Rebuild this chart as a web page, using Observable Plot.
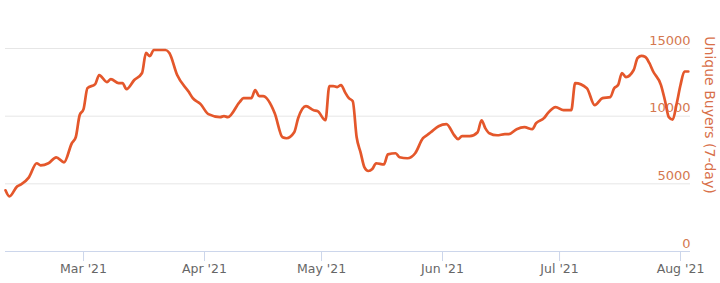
<!DOCTYPE html>
<html>
<head>
<meta charset="utf-8">
<script src="https://cdn.jsdelivr.net/npm/d3@7"></script>
<script src="https://cdn.jsdelivr.net/npm/@observablehq/plot@0.6"></script>
<style>
  html, body { margin: 0; padding: 0; background: #ffffff; }
  #chart { width: 720px; height: 283px; }
</style>
</head>
<body>
<div id="chart"></div>
<script>
const dates = [
  "2021-02-09","2021-02-10","2021-02-12","2021-02-13","2021-02-15","2021-02-17","2021-02-18","2021-02-20",
  "2021-02-22","2021-02-24","2021-02-26","2021-02-27","2021-02-28","2021-03-01","2021-03-02","2021-03-04",
  "2021-03-05","2021-03-07","2021-03-08","2021-03-10","2021-03-11","2021-03-12","2021-03-14","2021-03-16",
  "2021-03-17","2021-03-18","2021-03-19","2021-03-22","2021-03-23","2021-03-25","2021-03-28","2021-03-29",
  "2021-03-31","2021-04-02","2021-04-05","2021-04-06","2021-04-07","2021-04-10","2021-04-11","2021-04-13",
  "2021-04-14","2021-04-15","2021-04-16","2021-04-19","2021-04-21","2021-04-22","2021-04-24","2021-04-25",
  "2021-04-27","2021-04-29","2021-04-30","2021-05-02","2021-05-03","2021-05-04","2021-05-05","2021-05-06",
  "2021-05-07","2021-05-08","2021-05-09","2021-05-10","2021-05-11","2021-05-12","2021-05-13","2021-05-14",
  "2021-05-15","2021-05-17","2021-05-18","2021-05-20","2021-05-21","2021-05-23","2021-05-25","2021-05-27",
  "2021-05-28","2021-05-29","2021-05-31","2021-06-02","2021-06-04","2021-06-05","2021-06-06","2021-06-08",
  "2021-06-10","2021-06-11","2021-06-12","2021-06-13","2021-06-15","2021-06-17","2021-06-18","2021-06-20",
  "2021-06-22","2021-06-24","2021-06-25","2021-06-27","2021-06-28","2021-06-30","2021-07-02","2021-07-04",
  "2021-07-05","2021-07-08","2021-07-10","2021-07-12","2021-07-14","2021-07-15","2021-07-16","2021-07-17",
  "2021-07-18","2021-07-20","2021-07-21","2021-07-22","2021-07-23","2021-07-24","2021-07-25","2021-07-27",
  "2021-07-28","2021-07-29","2021-07-30","2021-07-31","2021-08-01","2021-08-02","2021-08-03"
];
const buyers = [
  4520, 4070, 4815, 4960, 5480, 6520, 6370, 6520,
  6960, 6590, 8000, 8440, 10070, 10520, 12070, 12370,
  13040, 12520, 12740, 12440, 12440, 12000, 12670, 13190,
  14670, 14440, 14890, 14890, 14670, 13040, 11780, 11330,
  10890, 10150, 9930, 10000, 9930, 11040, 11330, 11330,
  11930, 11480, 11480, 10220, 8440, 8370, 8810, 9850,
  10740, 10440, 10370, 9700, 12220, 12220, 12150, 12300,
  11780, 11330, 11110, 8440, 7330, 6220, 5950, 6100,
  6520, 6440, 7180, 7260, 6960, 6890, 7260, 8370,
  8590, 8810, 9260, 9410, 8590, 8300, 8520, 8520,
  8810, 9700, 9100, 8740, 8590, 8670, 8670, 9040,
  9190, 9040, 9480, 9850, 10220, 10670, 10440, 10440,
  12440, 12070, 10810, 11330, 11410, 12070, 12300, 13190,
  12890, 13410, 14300, 14450, 14370, 13930, 13300, 12300,
  11180, 9930, 9750, 10900, 12300, 13300, 13300
];
const monthTicks = ["2021-03-01","2021-04-01","2021-05-01","2021-06-01","2021-07-01","2021-08-01"];
const yTicks = [0, 5000, 10000, 15000];
const gridValues = [5000, 10000, 15000];
const yTitle = "Unique Buyers (7-day)";

const parse = d3.utcParse("%Y-%m-%d");
const data = dates.map((d, i) => ({date: parse(d), value: buyers[i]}));
const xDomain = [parse("2021-02-09"), new Date(Date.UTC(2021, 7, 3, 13, 30))];

const chart = Plot.plot({
  width: 720,
  height: 283,
  marginLeft: 5,
  marginRight: 30,
  marginTop: 48,
  marginBottom: 32,
  style: {fontFamily: "DejaVu Sans, sans-serif", fontSize: "12.5px", background: "#ffffff", overflow: "visible"},
  x: {type: "utc", domain: xDomain},
  y: {domain: [0, 15000]},
  marks: [
    Plot.ruleY(gridValues, {stroke: "#e6e6e6", strokeWidth: 1}),
    Plot.ruleY([0], {stroke: "#ccd6eb", strokeWidth: 1}),
    Plot.axisX({
      ticks: monthTicks.map(parse),
      tickFormat: d3.utcFormat("%b '%y"),
      tickSize: 10,
      tickPadding: 3,
      stroke: "#ccd6eb",
      fill: "#666666",
      fontSize: 12.5,
      label: null
    }),
    Plot.axisY({ticks: [], label: null}),
    Plot.text(yTicks, {
      y: d => d,
      text: d => String(d),
      frameAnchor: "right",
      textAnchor: "end",
      dy: -8,
      fill: "#d4784f",
      fontSize: 13
    }),
    Plot.text([yTitle], {
      text: d => d,
      frameAnchor: "right",
      textAnchor: "middle",
      lineAnchor: "middle",
      rotate: 90,
      dx: 19,
      dy: -35,
      fill: "#d8704a",
      fontSize: 14
    }),
    Plot.line(data, {
      x: "date",
      y: "value",
      stroke: "#e4572b",
      strokeWidth: 2.7,
      curve: "monotone-x"
    })
  ]
});
document.getElementById("chart").appendChild(chart);
</script>
</body>
</html>
